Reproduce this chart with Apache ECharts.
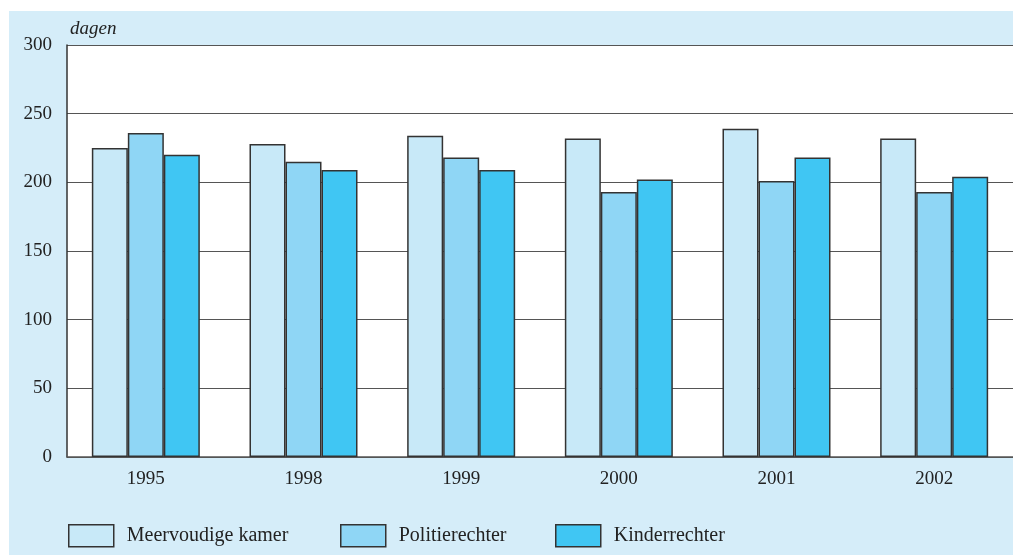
<!DOCTYPE html>
<html>
<head>
<meta charset="utf-8">
<script src="https://cdn.jsdelivr.net/npm/echarts@6/dist/echarts.min.js"></script>
<style>
  html, body { margin: 0; padding: 0; background: #fff; }
  #chart { width: 1013px; height: 555px; }
</style>
</head>
<body>
<div id="chart"></div>
<script>
// jaren en gemiddelde doorlooptijd (dagen)
var years = ['1995', '1998', '1999', '2000', '2001', '2002'];
var meervoudig = [225, 228, 234, 232, 239, 232];
var politie = [236, 215, 218, 193, 201, 193];
var kinder = [220, 209, 209, 202, 218, 204];
var names = ['Meervoudige kamer', 'Politierechter', 'Kinderrechter'];
var colors = ['#c8e9f8', '#8fd6f5', '#40c6f3'];

var chart = echarts.init(document.getElementById('chart'));
var font = 'Liberation Serif';

function bar(name, data, i) {
  return {
    name: name,
    type: 'bar',
    data: data,
    barWidth: 36,
    barGap: '0%',
    itemStyle: { color: colors[i], borderColor: '#333', borderWidth: 1.5 }
  };
}

function legend(name, left) {
  return {
    data: [name],
    left: left,
    top: 519,
    icon: 'rect',
    itemWidth: 45,
    itemHeight: 22,
    itemStyle: { borderColor: '#333', borderWidth: 1.5 },
    textStyle: { fontFamily: font, fontSize: 20, color: '#222', padding: [0, 0, 0, 8] }
  };
}

chart.setOption({
  backgroundColor: '#fff',
  animation: false,
  graphic: [
    { type: 'rect', left: 9, top: 11, shape: { width: 1004, height: 544 }, style: { fill: '#d5edf9' }, z: -10 },
    { type: 'text', left: 70, top: 19, style: { text: 'dagen', fontFamily: font, fontStyle: 'italic', fontSize: 19, fill: '#222' } }
  ],
  legend: [legend(names[0], 63), legend(names[1], 335), legend(names[2], 550)],
  grid: {
    left: 67, right: 0, top: 45, bottom: 98,
    show: true, backgroundColor: '#fff', borderWidth: 0
  },
  xAxis: {
    type: 'category',
    data: years,
    axisLine: { lineStyle: { color: '#555', width: 1.5 } },
    axisTick: { show: false },
    axisLabel: { fontFamily: font, fontSize: 19, color: '#222', margin: 13 }
  },
  yAxis: {
    type: 'value',
    min: 0, max: 300, interval: 50,
    axisLine: { show: true, lineStyle: { color: '#333', width: 1.5 } },
    axisTick: { show: false },
    axisLabel: { fontFamily: font, fontSize: 19, color: '#222', margin: 15 },
    splitLine: { lineStyle: { color: '#555', width: 1 } }
  },
  series: [
    bar(names[0], meervoudig, 0),
    bar(names[1], politie, 1),
    bar(names[2], kinder, 2)
  ]
});
</script>
</body>
</html>
